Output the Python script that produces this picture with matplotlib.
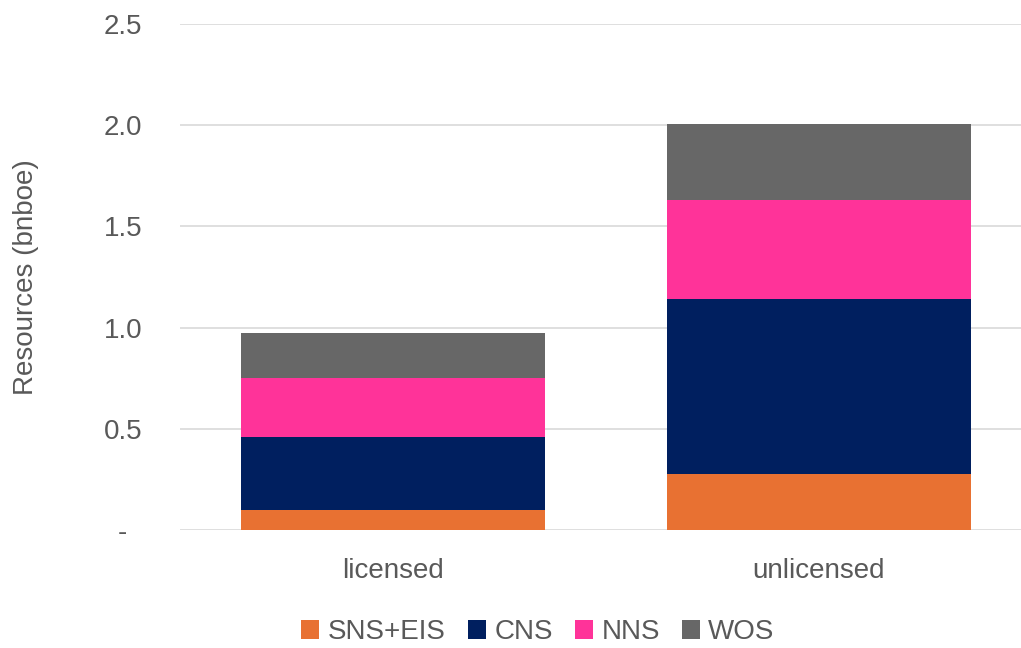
import numpy as np
from matplotlib import pyplot as plt, rcParams

rcParams["font.family"] = ["Liberation Sans", "DejaVu Sans"]
rcParams["font.size"] = 20

categories = ["licensed", "unlicensed"]
series = ["SNS+EIS", "CNS", "NNS", "WOS"]
sns_eis = [0.10, 0.275]
cns = [0.36, 0.866]
nns = [0.29, 0.489]
wos = [0.225, 0.375]
colors = ["#E87132", "#001F5F", "#FF3399", "#676767"]
yticks = [0, 0.5, 1.0, 1.5, 2.0, 2.5]
yticklabels = ["-  ", "0.5", "1.0", "1.5", "2.0", "2.5"]

txt = "#595959"
fig = plt.figure(figsize=(10.21, 6.48), dpi=100)
ax = fig.add_axes([180 / 1021, 118 / 648, 852 / 1021, 506.25 / 648])

x = np.arange(len(categories))
bottom = np.zeros(len(categories))
for name, vals, c in zip(series, [sns_eis, cns, nns, wos], colors):
    ax.bar(x, vals, width=0.714, bottom=bottom, color=c, label=name,
           edgecolor="none", zorder=3)
    bottom += np.array(vals)

ax.set_xlim(-0.5, 1.5)
ax.set_ylim(0, 2.5)
ax.set_yticks(yticks)
ax.set_yticklabels(yticklabels)
ax.set_xticks(x)
ax.set_xticklabels(categories)
ax.yaxis.grid(True, color="#d9d9d9", lw=1.2, zorder=0)
for s in ax.spines.values():
    s.set_visible(False)
ax.tick_params(axis="y", length=0, pad=27, colors=txt)
ax.tick_params(axis="x", length=0, pad=20, colors=txt)
ax.set_ylabel("Resources (bnboe)", color=txt, labelpad=47)

ax.legend(loc="center", bbox_to_anchor=(538 / 1021, 16 / 648),
          bbox_transform=fig.transFigure, ncol=4, frameon=False,
          handlelength=0.65, handleheight=0.65, handletextpad=0.3,
          columnspacing=0.8, labelcolor=txt)

fig.savefig("out.png", dpi=100)
